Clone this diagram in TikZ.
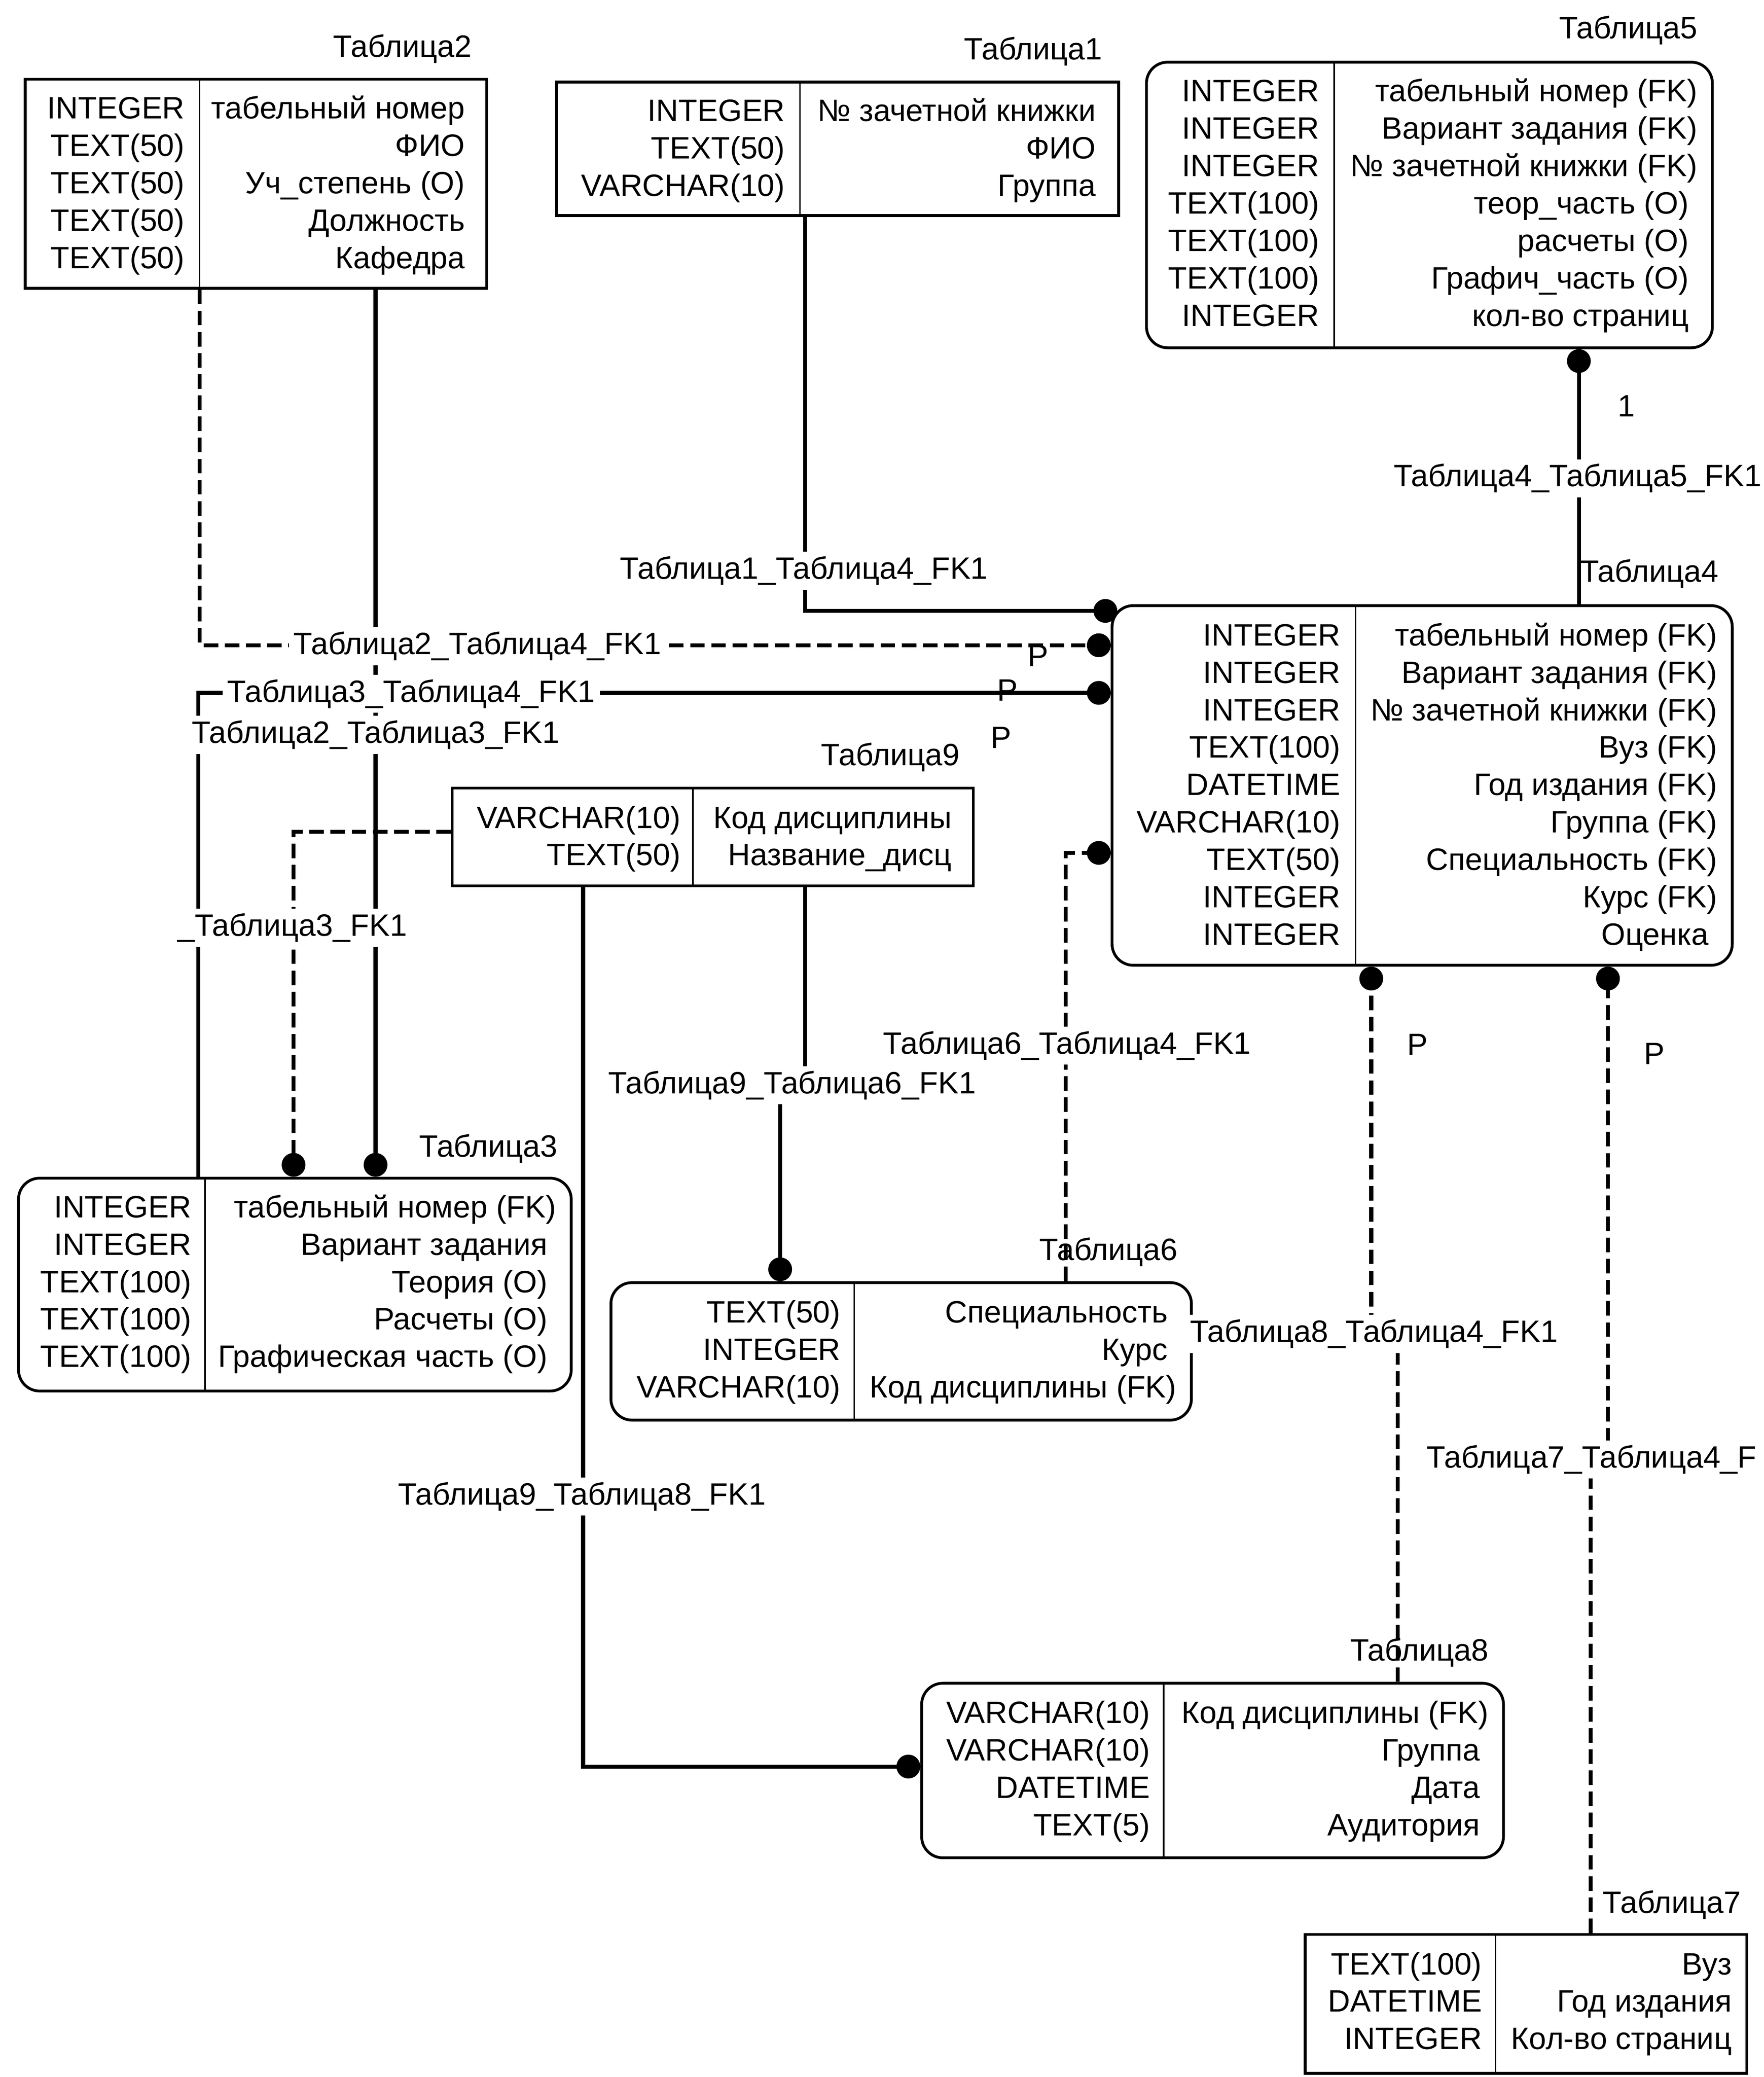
\documentclass[tikz,border=0pt]{standalone}
\usepackage{fontspec}
\setmainfont{Liberation Sans}
\usetikzlibrary{arrows.meta, fit}

\tikzset{
  tbl/.style={draw, line width=1.2pt, inner sep=0pt},
  tblr/.style={tbl, rounded corners=0.32cm},
  divider/.style={line width=0.6pt},
  ftype/.style={anchor=base east, inner sep=0pt, font=\fontsize{13.3pt}{16pt}\selectfont},
  fname/.style={ftype},
  tname/.style={ftype},
  card/.style={anchor=base, inner sep=0pt, font=\fontsize{13.3pt}{16pt}\selectfont},
  rlabel/.style={anchor=base, fill=white, inner sep=2pt, font=\fontsize{13.3pt}{16pt}\selectfont},
  rel/.style={line width=1.7pt, -{Circle[length=0.36cm]}},
  reldash/.style={rel, dash pattern=on 0.22cm off 0.1cm}
}

\begin{document}
\begin{tikzpicture}[x=0.02cm, y=-0.02cm]
\useasboundingbox (0,0) rectangle (1334,1570.8);

% Tables: box, divider, name, then the rows (type / field)
% Таблица2
\node[tbl, fit={(19,60) (368,218)}] (t2) {};
\draw[divider] (151,60) -- (151,218);
\node[tname] (t2name) at (357,43) {Таблица2};
\foreach \ty/\nm [count=\i] in {INTEGER/табельный номер, TEXT(50)/ФИО, TEXT(50)/Уч\_степень (O), TEXT(50)/Должность, TEXT(50)/Кафедра}{
  \node[ftype] (t2type\i) at (140,61.5+28.3*\i) {\ty};
  \node[fname] (t2field\i) at (352,61.5+28.3*\i) {\nm};
}

% Таблица1
\node[tbl, fit={(421,62) (846,163)}] (t1) {};
\draw[divider] (605,62) -- (605,163);
\node[tname] (t1name) at (834,45) {Таблица1};
\foreach \ty/\nm [count=\i] in {INTEGER/№ зачетной книжки, TEXT(50)/ФИО, VARCHAR(10)/Группа}{
  \node[ftype] (t1type\i) at (594,63.5+28.3*\i) {\ty};
  \node[fname] (t1field\i) at (829,63.5+28.3*\i) {\nm};
}

% Таблица5
\node[tblr, fit={(867,47) (1295,263)}] (t5) {};
\draw[divider] (1009,47) -- (1009,263);
\node[tname] (t5name) at (1284,29) {Таблица5};
\foreach \ty/\nm [count=\i] in {INTEGER/табельный номер (FK), INTEGER/Вариант задания (FK), INTEGER/№ зачетной книжки (FK), TEXT(100)/теор\_часть (O)\kern.28em, TEXT(100)/расчеты (O)\kern.28em, TEXT(100)/Графич\_часть (O)\kern.28em, INTEGER/кол-во страниц\kern.28em}{
  \node[ftype] (t5type\i) at (998,48.5+28.3*\i) {\ty};
  \node[fname] (t5field\i) at (1284,48.5+28.3*\i) {\nm};
}

% Таблица4
\node[tblr, fit={(841,458) (1310,730)}] (t4) {};
\draw[divider] (1025,458) -- (1025,730);
\node[tname] (t4name) at (1300,440) {Таблица4};
\foreach \ty/\nm [count=\i] in {INTEGER/табельный номер (FK), INTEGER/Вариант задания (FK), INTEGER/№ зачетной книжки (FK), TEXT(100)/Вуз (FK), DATETIME/Год издания (FK), VARCHAR(10)/Группа (FK), TEXT(50)/Специальность (FK), INTEGER/Курс (FK), INTEGER/Оценка\kern.28em}{
  \node[ftype] (t4type\i) at (1014,460+28.3*\i) {\ty};
  \node[fname] (t4field\i) at (1299,460+28.3*\i) {\nm};
}

% Таблица9
\node[tbl, fit={(342,596) (736,670)}] (t9) {};
\draw[divider] (524,596) -- (524,670);
\node[tname] (t9name) at (726,579) {Таблица9};
\foreach \ty/\nm [count=\i] in {VARCHAR(10)/Код дисциплины, TEXT(50)/Название\_дисц}{
  \node[ftype] (t9type\i) at (515,598+28.3*\i) {\ty};
  \node[fname] (t9field\i) at (720,598+28.3*\i) {\nm};
}

% Таблица3
\node[tblr, fit={(14,891) (432,1052)}] (t3) {};
\draw[divider] (155,891) -- (155,1052);
\node[tname] (t3name) at (422,875) {Таблица3};
\foreach \ty/\nm [count=\i] in {INTEGER/табельный номер (FK), INTEGER/Вариант задания\kern.28em, TEXT(100)/Теория (O)\kern.28em, TEXT(100)/Расчеты (O)\kern.28em, TEXT(100)/Графическая часть (O)\kern.28em}{
  \node[ftype] (t3type\i) at (145,892.5+28.3*\i) {\ty};
  \node[fname] (t3field\i) at (421,892.5+28.3*\i) {\nm};
}

% Таблица6
\node[tblr, fit={(462,970) (901,1074)}] (t6) {};
\draw[divider] (646,970) -- (646,1074);
\node[tname] (t6name) at (891,953) {Таблица6};
\foreach \ty/\nm [count=\i] in {TEXT(50)/Специальность\kern.28em, INTEGER/Курс\kern.28em, VARCHAR(10)/Код дисциплины (FK)}{
  \node[ftype] (t6type\i) at (636,972+28.3*\i) {\ty};
  \node[fname] (t6field\i) at (890,972+28.3*\i) {\nm};
}

% Таблица8
\node[tblr, fit={(697,1273) (1137,1405)}] (t8) {};
\draw[divider] (880,1273) -- (880,1405);
\node[tname] (t8name) at (1126,1256) {Таблица8};
\foreach \ty/\nm [count=\i] in {VARCHAR(10)/Код дисциплины (FK), VARCHAR(10)/Группа\kern.28em, DATETIME/Дата\kern.28em, TEXT(5)/Аудитория\kern.28em}{
  \node[ftype] (t8type\i) at (870,1275+28.3*\i) {\ty};
  \node[fname] (t8field\i) at (1126,1275+28.3*\i) {\nm};
}

% Таблица7
\node[tbl, fit={(987,1463) (1321,1568)}] (t7) {};
\draw[divider] (1131,1463) -- (1131,1568);
\node[tname] (t7name) at (1317,1447) {Таблица7};
\foreach \ty/\nm [count=\i] in {TEXT(100)/Вуз, DATETIME/Год издания, INTEGER/Кол-во страниц}{
  \node[ftype] (t7type\i) at (1121,1465+28.3*\i) {\ty};
  \node[fname] (t7field\i) at (1310,1465+28.3*\i) {\nm};
}

% Bends of the relations
\coordinate (b1) at (609,462);
\coordinate (b2) at (151,488);
\coordinate (b3) at (150,524);
\coordinate (b4) at (284,554);
\coordinate (b5) at (222,629);
\coordinate (b6a) at (609,819);
\coordinate (b6b) at (590,819);
\coordinate (b7) at (806,645);
\coordinate (b8) at (441,1336);
\coordinate (b9a) at (1057,1007);
\coordinate (b9b) at (1037,1007);
\coordinate (b10a) at (1203,1102);
\coordinate (b10b) at (1216,1102);
\coordinate (b11) at (1194,360);

% Relations
\draw[rel] (t1.south -| b1) -- (b1) -- ([xshift=0.1cm]t4.west |- b1);
\draw[reldash] (t2.south -| b2) -- (b2) -- (t4.west |- b2);
\draw[rel] (t3.north -| b3) -- (b3) -- (t4.west |- b3);
\draw[rel] (t2.south -| b4) -- (t3.north -| b4);
\draw[reldash] (t9.west |- b5) -- (b5) -- (t3.north -| b5);
\draw[rel] (t9.south -| b6a) -- (b6a) -- (b6b) -- (t6.north -| b6b);
\draw[reldash] (t6.north -| b7) -- (b7) -- (t4.west |- b7);
\draw[rel] (t9.south -| b8) -- (b8) -- (t8.west |- b8);
\draw[reldash] (t8.north -| b9a) -- (b9a) -- (b9b) -- (t4.south -| b9b);
\draw[reldash] (t7.north -| b10a) -- (b10a) -- (b10b) -- (t4.south -| b10b);
\draw[rel] (t4.north -| b11) -- (t5.south -| b11);

% Relation names
\node[rlabel] (r1) at (608,438) {Таблица1\_Таблица4\_FK1};
\node[rlabel] (r2) at (361,495) {Таблица2\_Таблица4\_FK1};
\node[rlabel] (r3) at (311,531) {Таблица3\_Таблица4\_FK1};
\node[rlabel] (r4) at (284,562) {Таблица2\_Таблица3\_FK1};
\node[rlabel] (r5) at (221,708) {\_Таблица3\_FK1};
\node[rlabel] (r6) at (599,827) {Таблица9\_Таблица6\_FK1};
\node[rlabel] (r7) at (807,797) {Таблица6\_Таблица4\_FK1};
\node[rlabel] (r8) at (440,1138) {Таблица9\_Таблица8\_FK1};
\node[rlabel] (r9) at (1039,1015) {Таблица8\_Таблица4\_FK1};
\node[rlabel, anchor=base west] (r10) at (1075,1110) {Таблица7\_Таблица4\_F};
\node[rlabel] (r11) at (1193,368) {Таблица4\_Таблица5\_FK1};

% Cardinalities
\node[card] (p2) at (785,504) {P};
\node[card] (p3) at (762,530) {P};
\node[card] (p7) at (757,566) {P};
\node[card] (p9) at (1072,798) {P};
\node[card] (p10) at (1251,805) {P};
\node[card] (c11) at (1230,315) {1};
\end{tikzpicture}
\end{document}
